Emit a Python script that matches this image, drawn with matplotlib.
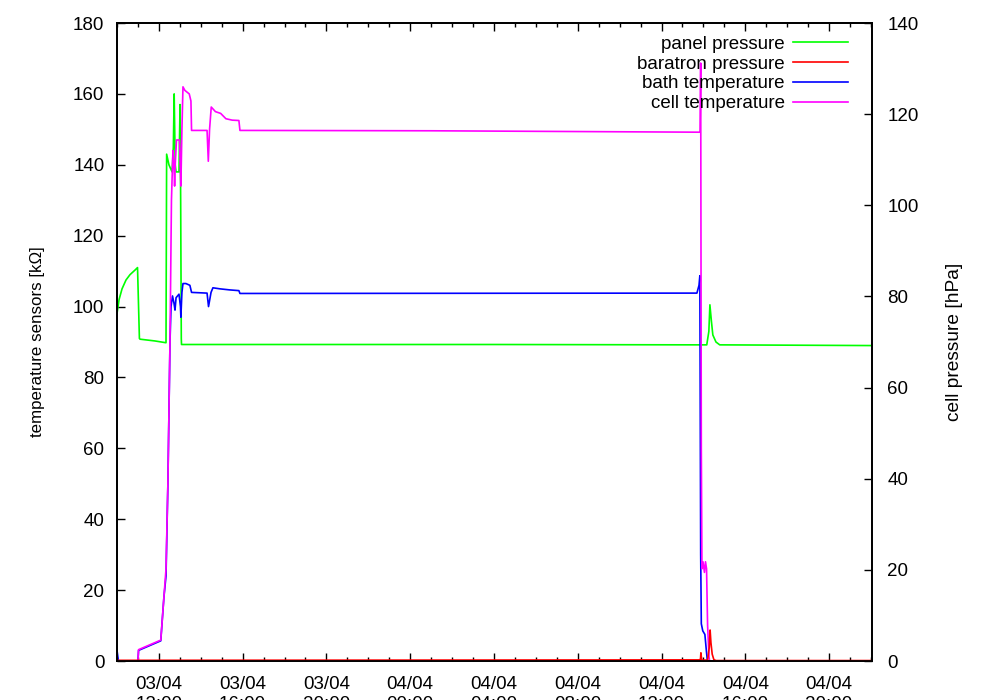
import pandas as pd
import numpy as np
import matplotlib
matplotlib.use('Agg')
import matplotlib.pyplot as plt
import matplotlib.dates as mdates

plt.rcParams['font.family'] = ['Liberation Sans', 'DejaVu Sans']
plt.rcParams['font.size'] = 13.5

# Temps en heures depuis le 03/04 00:00
t_panel = [10.0, 10.1, 10.24, 10.43, 10.62, 10.86, 10.98, 11.07, 11.1, 11.81, 12.34,
           12.37, 12.48, 12.63, 12.69, 12.73, 12.78, 12.82, 12.96, 13.01, 13.04, 13.07,
           13.08, 20.0, 28.0, 37.8, 38.16, 38.26, 38.31, 38.38, 38.45, 38.6, 38.78, 46.05]
panel = [98, 102, 105, 107.5, 109, 110.3, 111, 91, 90.8, 90.3, 89.8,
         143, 140, 138, 145, 160, 140, 138, 138, 157, 130, 91,
         89.3, 89.3, 89.3, 89.2, 89.2, 93, 100.5, 96, 92, 90, 89.2, 89.0]

t_bath = [10.0, 10.07, 11.0, 11.03, 12.09, 12.24, 12.34, 12.43, 12.53, 12.58, 12.65,
          12.72, 12.77, 12.82, 12.96, 13.03, 13.05, 13.1, 13.15, 13.29, 13.48, 13.56,
          14.3, 14.37, 14.49, 14.58, 14.92, 15.39, 15.82, 15.87, 37.69, 37.79, 37.83,
          37.87, 37.9, 37.97, 38.07, 38.14, 38.19, 46.05]
bath = [3, 0, 0, 3, 5.7, 18, 24, 50, 90, 100, 103,
        101, 99, 102.5, 103.5, 100, 97, 104, 106.5, 106.5, 106, 104,
        103.8, 100, 104, 105.3, 105, 104.7, 104.5, 103.7, 103.8, 106, 108.7,
        30, 10.5, 8.5, 7.5, 3, 0, 0]

t_cell = [10.0, 11.0, 11.03, 12.09, 12.24, 12.34, 12.43, 12.53, 12.6, 12.67, 12.72,
          12.75, 12.78, 12.84, 12.98, 13.02, 13.05, 13.1, 13.15, 13.24, 13.45, 13.53,
          13.56, 14.3, 14.36, 14.42, 14.5, 14.7, 14.95, 15.2, 15.5, 15.82, 15.87,
          25.0, 37.84, 37.87, 37.9, 37.93, 37.98, 38.05, 38.1, 38.15, 38.2, 38.27, 38.3, 46.05]
cell = [0, 0, 3.2, 5.9, 18, 26, 50, 90, 130, 144, 140,
        134, 140, 147, 147, 140, 134, 150, 162, 161, 160, 158,
        149.7, 149.7, 141, 150, 156.3, 155, 154.5, 153, 152.6, 152.5, 149.7,
        149.6, 149.2, 168.7, 60, 26, 28, 25, 28, 26, 10, 1, 0, 0]

# Baratron en hPa (axe de droite)
t_baratron = [10.0, 37.8, 37.86, 37.88, 37.92, 38.2, 38.28, 38.32, 38.36, 38.42, 38.5, 38.6, 46.05]
baratron = [0.15, 0.25, 0.4, 1.8, 0.2, 0.2, 3.0, 6.8, 4.0, 1.5, 0.3, 0.1, 0.1]


def to_dates(hours):
    return pd.Timestamp('2013-04-03') + pd.to_timedelta(hours, unit='h')


fig = plt.figure(figsize=(10, 7), dpi=100)
ax = fig.add_axes([0.117, 0.0557, 0.755, 0.9114])
ax2 = ax.twinx()

lw = 1.2
l1, = ax.plot(to_dates(t_panel), panel, color='#00ff00', lw=lw, label='panel pressure')
l2, = ax2.plot(to_dates(t_baratron), baratron, color='#ff0000', lw=lw, label='baratron pressure')
l3, = ax.plot(to_dates(t_bath), bath, color='#0000ff', lw=lw, label='bath temperature')
l4, = ax.plot(to_dates(t_cell), cell, color='#ff00ff', lw=lw, label='cell temperature')

ax.set_xlim(to_dates([10.0])[0], to_dates([46.05])[0])
ax.set_ylim(0, 180)
ax2.set_ylim(0, 140)
ax.set_yticks(np.arange(0, 181, 20))
ax2.set_yticks(np.arange(0, 141, 20))

ax.xaxis.set_major_locator(mdates.HourLocator(byhour=range(0, 24, 4)))
ax.xaxis.set_minor_locator(mdates.HourLocator())
ax.xaxis.set_major_formatter(mdates.DateFormatter('%d/%m\n%H:%M'))

ax.tick_params(axis='x', which='major', direction='in', top=True, length=6, width=1, pad=11)
ax.tick_params(axis='x', which='minor', direction='in', top=True, length=3, width=1)
ax.tick_params(axis='y', direction='in', right=False, length=6, width=1, pad=9)
ax2.tick_params(axis='y', direction='in', length=6, width=1, pad=11)

for a in (ax, ax2):
    for s in a.spines.values():
        s.set_linewidth(1.3)

ax.set_ylabel('temperature sensors [kΩ]', fontsize=12.2, labelpad=20)
ax2.set_ylabel('cell pressure [hPa]', fontsize=13.8, labelpad=20)

ax2.legend(handles=[l1, l2, l3, l4], loc='upper right', bbox_to_anchor=(0.968, 0.98),
           frameon=False, markerfirst=False,
           handlelength=2.93, handletextpad=0.43, labelspacing=0.14,
           borderaxespad=0, borderpad=0)

plt.savefig('out.png', dpi=100)
